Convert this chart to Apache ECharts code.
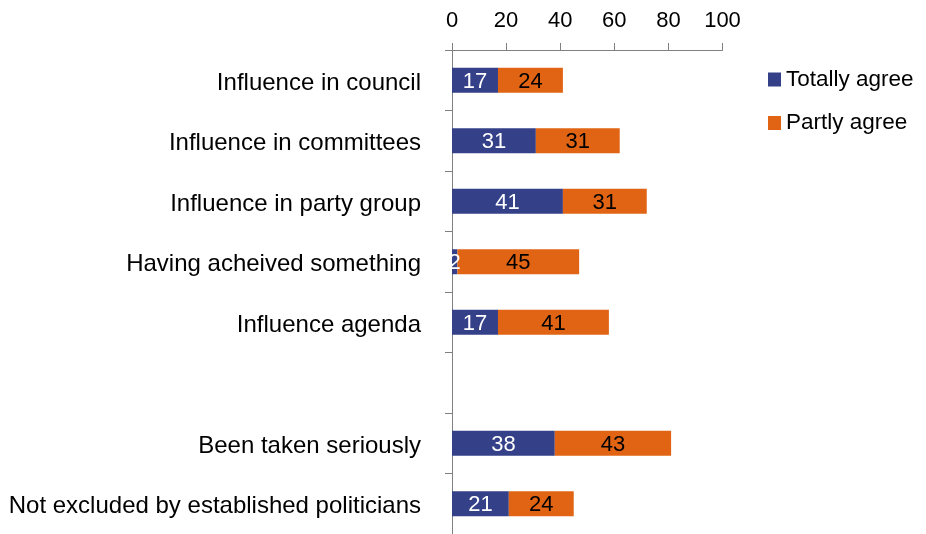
<!DOCTYPE html>
<html>
<head>
<meta charset="utf-8">
<script src="https://cdn.jsdelivr.net/npm/echarts@6/dist/echarts.min.js"></script>
<style>
  html, body { margin: 0; padding: 0; background: #fff; }
  #chart { width: 926px; height: 534px; }
</style>
</head>
<body>
<div id="chart"></div>
<script>
// Survey statements; the empty entry leaves a gap between the two groups
const categories = [
  'Influence in council',
  'Influence in committees',
  'Influence in party group',
  'Having acheived something',
  'Influence agenda',
  '',
  'Been taken seriously',
  'Not excluded by established politicians'
];
const totallyAgree = [17, 31, 41, 2, 17, null, 38, 21];
const partlyAgree = [24, 31, 31, 45, 41, null, 43, 24];
const xTicks = [0, 20, 40, 60, 80, 100];

const FONT = 'Liberation Sans, Arial, sans-serif';
const AXIS_GREY = '#808080';

const chart = echarts.init(document.getElementById('chart'), null, { renderer: 'canvas' });
chart.setOption({
  animation: false,
  textStyle: { fontFamily: FONT },
  grid: { left: 452, right: 203.5, top: 50, bottom: -2, containLabel: false },
  legend: {
    orient: 'vertical',
    left: 768,
    top: 67,
    padding: 0,
    icon: 'rect',
    itemWidth: 13,
    itemHeight: 14,
    itemGap: 18.5,
    itemTextGap: 11,
    textStyle: { fontSize: 22.5, color: '#000', fontFamily: FONT, lineHeight: 25 },
    data: ['Totally agree', 'Partly agree']
  },
  xAxis: {
    type: 'value',
    position: 'top',
    min: xTicks[0],
    max: xTicks[xTicks.length - 1],
    interval: xTicks[1] - xTicks[0],
    axisLine: { show: true, lineStyle: { color: AXIS_GREY, width: 1 } },
    axisTick: { show: true, length: 7, lineStyle: { color: AXIS_GREY } },
    axisLabel: { fontSize: 22, color: '#000', margin: 18, fontFamily: FONT },
    splitLine: { show: false }
  },
  yAxis: {
    type: 'category',
    inverse: true,
    data: categories,
    axisLine: { show: true, lineStyle: { color: AXIS_GREY, width: 1 } },
    axisTick: { show: true, length: 7, lineStyle: { color: AXIS_GREY } },
    axisLabel: {
      color: '#000',
      margin: 31,
      formatter: v => '{t|' + v + '}',
      rich: { t: { fontSize: 24, fontFamily: FONT, color: '#000', padding: [6, 0, 0, 0] } }
    }
  },
  series: [
    {
      name: 'Totally agree',
      type: 'bar',
      stack: 'agree',
      barWidth: 25,
      data: totallyAgree,
      itemStyle: { color: '#344189' },
      label: { show: true, position: 'inside', offset: [0, 1.5], color: '#fff', fontSize: 22, fontFamily: FONT }
    },
    {
      name: 'Partly agree',
      type: 'bar',
      stack: 'agree',
      barWidth: 25,
      data: partlyAgree,
      itemStyle: { color: '#E06414' },
      label: { show: true, position: 'inside', offset: [0, 1.5], color: '#000', fontSize: 22, fontFamily: FONT }
    }
  ]
});
</script>
</body>
</html>
